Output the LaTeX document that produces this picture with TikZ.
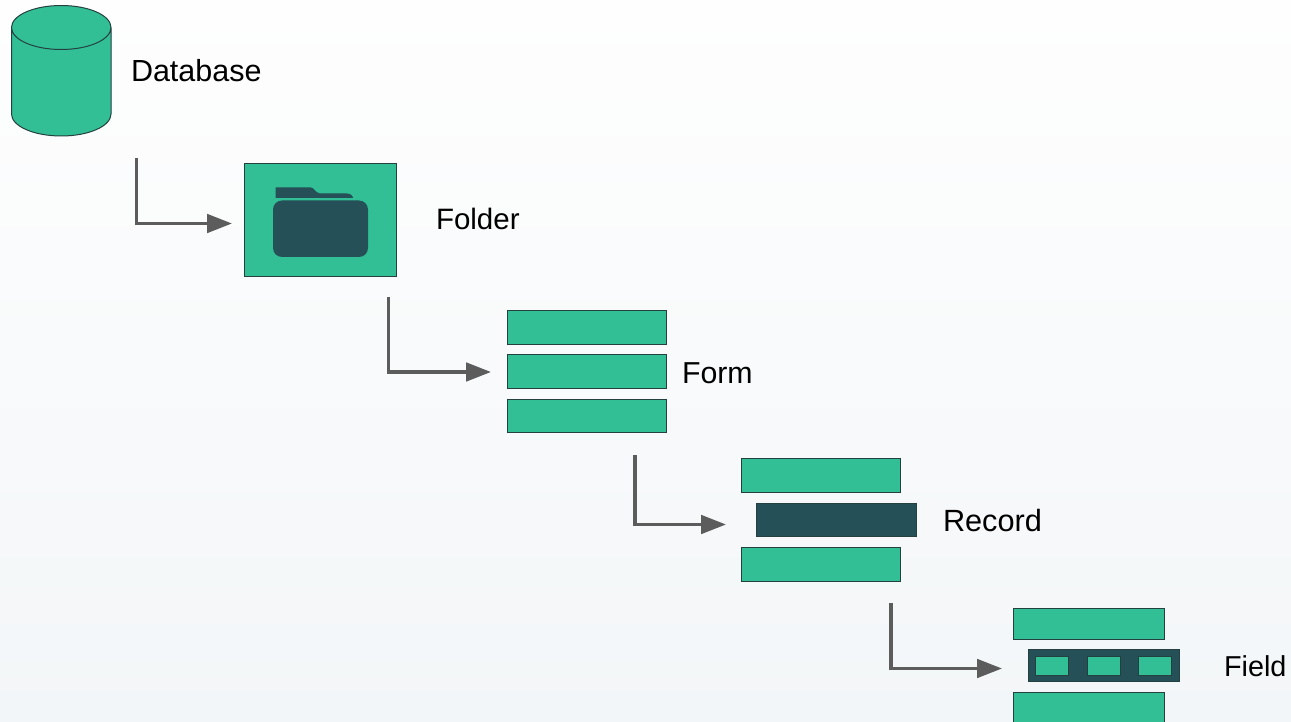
\documentclass[tikz,border=0pt]{standalone}
\usepackage{fontspec}
\setmainfont{Liberation Sans}
\usetikzlibrary{arrows.meta}
\definecolor{tealfill}{HTML}{32BF96}
\definecolor{darkfill}{HTML}{265058}
\definecolor{edgeline}{HTML}{24403F}
\definecolor{arrowgray}{HTML}{5C5C5C}
\definecolor{bgtop}{HTML}{FEFEFE}
\definecolor{bgbottom}{HTML}{F3F6F8}
\tikzset{
  barbox/.style={draw=edgeline,fill=tealfill,line width=1pt,inner sep=0pt,outer sep=0pt,anchor=north west,minimum width=#1,minimum height=33.5pt},
  darkbox/.style={draw=edgeline,fill=darkfill,line width=1pt,inner sep=0pt,outer sep=0pt,anchor=north west,minimum width=#1,minimum height=33.5pt},
  cellbox/.style={draw=edgeline,fill=tealfill,line width=1pt,inner sep=0pt,outer sep=0pt,anchor=north west,minimum width=33pt,minimum height=19pt},
  caption/.style={anchor=base west,inner sep=0pt,outer sep=0pt,font=\fontsize{#1}{32pt}\selectfont,text=black},
  flow/.style={draw=arrowgray,line width=3.4pt,line join=miter,-{Triangle[length=25pt,width=18.5pt]}},
}
\begin{document}
\begin{tikzpicture}[x=1pt,y=-1pt]
\useasboundingbox (0,0) rectangle (1291,722);
\shade[top color=bgtop,bottom color=bgbottom] (0,0) rectangle (1291,722);

% database cylinder
\path[fill=tealfill,draw=edgeline,line width=1pt]
  (11.5,27.5) -- (11.5,114)
  .. controls (11.5,126.2) and (33.8,136) .. (61.25,136)
  .. controls (88.7,136) and (111,126.2) .. (111,114) -- (111,27.5)
  .. controls (111,15.3) and (88.7,5.5) .. (61.25,5.5)
  .. controls (33.8,5.5) and (11.5,15.3) .. (11.5,27.5)
  .. controls (11.5,39.7) and (33.8,49.5) .. (61.25,49.5)
  .. controls (88.7,49.5) and (111,39.7) .. (111,27.5);
\node[caption=30.5pt] (dblabel) at (131,82) {Database};

% folder
\node[draw=edgeline,fill=tealfill,line width=1pt,inner sep=0pt,outer sep=0pt,anchor=north west,minimum width=152pt,minimum height=113pt] (folder) at (244.5,163.5) {};
\fill[darkfill] (275.5,198) -- (275.5,187.5) -- (311,187.5) .. controls (314,187.5) and (315,192.5) .. (320,193.5)
  -- (347,193.5) .. controls (351,193.5) and (353,196) .. (353.5,199.5) -- cycle;
\fill[tealfill] (270,198.5) rectangle (372,200.5);
\fill[darkfill,rounded corners=9pt] (273,200.5) rectangle (368,257);
\node[caption=29.5pt] (folderlabel) at (436,230) {Folder};

% form
\node[barbox=159pt] (forma) at (507.5,310.5) {};
\node[barbox=159pt] (formb) at (507.5,354.5) {};
\node[barbox=159pt] (formc) at (507.5,399) {};
\node[caption=30.3pt] (formlabel) at (682,383) {Form};

% record
\node[barbox=159.5pt] (reca) at (741,458.5) {};
\node[darkbox=160pt] (recb) at (756.5,503) {};
\node[barbox=159.5pt] (recc) at (741,547.5) {};
\node[caption=30.7pt] (reclabel) at (943,531) {Record};

% field
\node[barbox=151pt,minimum height=31.5pt] (fielda) at (1013.5,608) {};
\node[darkbox=151pt,minimum height=31.5pt] (fieldb) at (1028.5,649.5) {};
\node[cellbox] (cella) at (1035.5,656.5) {};
\node[cellbox] (cellb) at (1087,656.5) {};
\node[cellbox] (cellc) at (1138.5,656.5) {};
\node[barbox=151pt,minimum height=40pt] (fieldc) at (1013.5,692) {};
\node[caption=28.8pt] (fieldlabel) at (1224,676) {Field};

% connectors
\coordinate (s1) at (136.2,158);
\coordinate (t1) at (232,223.5);
\coordinate (s2) at (388.5,297);
\coordinate (t2) at (491,372);
\coordinate (s3) at (635,455);
\coordinate (t3) at (726,524.5);
\coordinate (s4) at (891,603);
\coordinate (t4) at (1002,668.5);
\draw[flow] (s1) |- (t1);
\draw[flow] (s2) |- (t2);
\draw[flow] (s3) |- (t3);
\draw[flow] (s4) |- (t4);
\end{tikzpicture}
\end{document}
